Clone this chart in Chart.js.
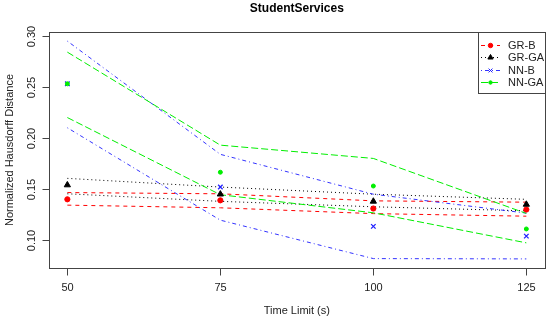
<!DOCTYPE html>
<html>
<head>
<meta charset="utf-8">
<script src="https://cdn.jsdelivr.net/npm/chart.js@4"></script>
<style>
html,body{margin:0;padding:0;background:#fff;}
#wrap{width:550px;height:320px;}
</style>
</head>
<body>
<div id="wrap"><canvas id="c" width="550" height="320"></canvas></div>
<script>
// ---- data ----
const chartTitle = "StudentServices";
const xTitle = "Time Limit (s)";
const yTitle = "Normalized Hausdorff Distance";
const timeLimits = [50, 75, 100, 125];
const xTickLabels = [50, 75, 100, 125];
const yTickValues = [0.10, 0.15, 0.20, 0.25, 0.30];
const yTickLabels = ["0.10", "0.15", "0.20", "0.25", "0.30"];
const seriesNames = ["GR-B", "GR-GA", "NN-B", "NN-GA"];

const grB       = [0.140, 0.139, 0.131, 0.130];
const grBUpper  = [0.1466, 0.1454, 0.1385, 0.1372];
const grBLower  = [0.1343, 0.1317, 0.1260, 0.1235];

const grGA      = [0.154, 0.145, 0.138, 0.135];
const grGAUpper = [0.1605, 0.1520, 0.1450, 0.1400];
const grGALower = [0.1454, 0.1380, 0.1327, 0.1287];

const nnB       = [0.253, 0.152, 0.1135, 0.104];
const nnBUpper  = [0.2948, 0.1840, 0.1450, 0.1265];
const nnBLower  = [0.2100, 0.1196, 0.0820, 0.0817];

const nnGA      = [0.253, 0.1665, 0.153, 0.111];
const nnGAUpper = [0.2840, 0.1930, 0.1800, 0.1262];
const nnGALower = [0.2200, 0.1445, 0.1268, 0.0974];

// ---- styles ----
const colors = ["#ff0000", "#000000", "#3333ff", "#00ee00"];
const pointColors = ["#ff0000", "#000000", "#2222ff", "#00ee00"];
const dashes = [[4,4], [1,3], [1,3,4,3], [7,3]];
const pStyles = ["circle", "triangle", "crossRot", "circle"];
const pRadius = [2.6, 3.6, 3.2, 2];
const pBorder = [1, 1, 1.3, 1];

const pts = ys => timeLimits.map((x, i) => ({x: x, y: ys[i]}));
const means = [grB, grGA, nnB, nnGA];
const uppers = [grBUpper, grGAUpper, nnBUpper, nnGAUpper];
const lowers = [grBLower, grGALower, nnBLower, nnGALower];

const datasets = [];
for (let s = 0; s < 4; s++) {
  [uppers[s], lowers[s]].forEach(arr => {
    datasets.push({
      label: seriesNames[s] + " bound",
      data: pts(arr),
      showLine: true,
      borderColor: colors[s],
      borderWidth: 1,
      borderDash: dashes[s],
      pointRadius: 0,
      tension: 0,
      fill: false,
      order: 20 - s * 2
    });
  });
  datasets.push({
    label: seriesNames[s],
    data: pts(means[s]),
    showLine: false,
    pointStyle: pStyles[s],
    pointRadius: pRadius[s],
    pointBackgroundColor: pointColors[s],
    pointBorderColor: pointColors[s],
    pointBorderWidth: pBorder[s],
    order: 10 - s * 2
  });
}

const FONT = '"Liberation Sans", Arial, sans-serif';

const rStyle = {
  id: 'rStyle',
  afterDraw(chart) {
    const ctx = chart.ctx;
    const a = chart.chartArea;
    const xs = chart.scales.x, ys = chart.scales.y;
    ctx.save();
    // box
    ctx.strokeStyle = '#444';
    ctx.lineWidth = 1;
    ctx.setLineDash([]);
    ctx.strokeRect(Math.round(a.left) + 0.5, Math.round(a.top) + 0.5,
                   Math.round(a.right - a.left), Math.round(a.bottom - a.top));
    // x ticks
    ctx.fillStyle = '#222';
    ctx.font = '11px ' + FONT;
    ctx.textAlign = 'center';
    ctx.textBaseline = 'middle';
    const yb = Math.round(a.bottom) + 0.5;
    xTickLabels.forEach(v => {
      const px = Math.round(xs.getPixelForValue(v)) + 0.5;
      ctx.beginPath(); ctx.moveTo(px, yb); ctx.lineTo(px, yb + 7); ctx.stroke();
      ctx.fillText(String(v), px, a.bottom + 19.5);
    });
    // y ticks
    const xl = Math.round(a.left) + 0.5;
    yTickValues.forEach((v, i) => {
      const py = Math.round(ys.getPixelForValue(v)) + 0.5;
      ctx.beginPath(); ctx.moveTo(xl - 7, py); ctx.lineTo(xl, py); ctx.stroke();
      ctx.save();
      ctx.translate(a.left - 17, py);
      ctx.rotate(-Math.PI / 2);
      ctx.fillText(yTickLabels[i], 0, 0);
      ctx.restore();
    });
    // axis titles
    ctx.fillText(xTitle, (a.left + a.right) / 2, 311);
    ctx.save();
    ctx.translate(10, (a.top + a.bottom) / 2);
    ctx.rotate(-Math.PI / 2);
    ctx.fillText(yTitle, 0, 0);
    ctx.restore();
    // title
    ctx.fillStyle = '#000';
    ctx.font = 'bold 12px ' + FONT;
    ctx.fillText(chartTitle, (a.left + a.right) / 2, 9);
    // legend
    const lw = 67, lh = 61;
    const lx = Math.round(a.right) - lw, ly = Math.round(a.top);
    ctx.fillStyle = '#fff';
    ctx.fillRect(lx + 0.5, ly + 0.5, lw, lh);
    ctx.strokeStyle = '#444';
    ctx.strokeRect(lx + 0.5, ly + 0.5, lw, lh);
    ctx.font = '11px ' + FONT;
    ctx.textAlign = 'left';
    for (let s = 0; s < 4; s++) {
      const yy = Math.round(ly + 12.5 + s * 12.6) + 0.5;
      ctx.strokeStyle = colors[s];
      ctx.fillStyle = pointColors[s];
      ctx.lineWidth = 1;
      ctx.setLineDash(dashes[s]);
      ctx.beginPath(); ctx.moveTo(lx + 3, yy); ctx.lineTo(lx + 22, yy); ctx.stroke();
      ctx.setLineDash([]);
      ctx.strokeStyle = pointColors[s];
      Chart.helpers.drawPoint(ctx, {pointStyle: pStyles[s], radius: pRadius[s] * 0.85, borderWidth: pBorder[s]}, lx + 12.5, yy);
      ctx.fillStyle = '#222';
      ctx.fillText(seriesNames[s], lx + 30, yy);
    }
    ctx.restore();
  }
};

new Chart(document.getElementById('c'), {
  type: 'scatter',
  data: { datasets: datasets },
  options: {
    responsive: false,
    animation: false,
    devicePixelRatio: 1,
    layout: { padding: { left: 49, right: 5, top: 32, bottom: 52 } },
    plugins: { legend: { display: false }, title: { display: false }, tooltip: { enabled: false } },
    scales: {
      x: { type: 'linear', display: false, min: 47, max: 128 },
      y: { type: 'linear', display: false, min: 0.0728, max: 0.3037 }
    }
  },
  plugins: [rStyle]
});
</script>
</body>
</html>
